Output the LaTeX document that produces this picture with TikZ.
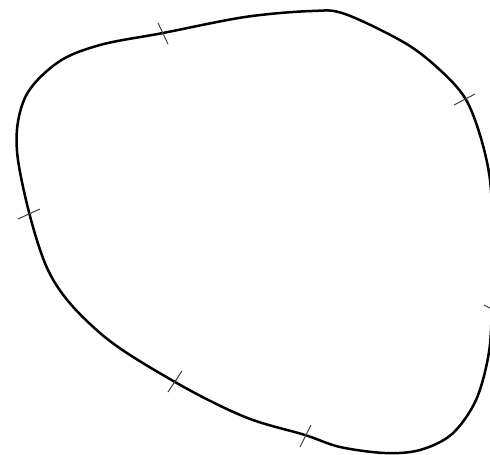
\documentclass[tikz,border=0pt]{standalone}
\begin{document}
\begin{tikzpicture}[x=1pt,y=-1pt,
  outline/.style={line width=2.5pt, line join=round},
  tickmark/.style={line width=1pt, draw=black!75}]
\useasboundingbox (0,0) rectangle (490,455);
\clip (0,0) rectangle (490,455);
\draw[outline] plot[smooth cycle, tension=0.55] coordinates {
 (312,11) (345,14) (405,43) (440,70) (465,98) (480,135) (490,180)
 (493,240) (492,300) (489,352) (476,400) (452,434) (420,450) (385,453)
 (340,447) (305,435) (245,417) (175,382) (100,333) (48,270)
 (18,160) (24,100) (57,63) (100,45) (163,33) (245,17)};
\draw[tickmark] (158,23) -- (168,44);
\draw[tickmark] (18,219) -- (40,209);
\draw[tickmark] (454,105) -- (475,94);
\draw[tickmark] (168,392) -- (182,371);
\draw[tickmark] (300,447) -- (311,425);
\draw[tickmark] (484,305) -- (498,312);
\end{tikzpicture}
\end{document}
